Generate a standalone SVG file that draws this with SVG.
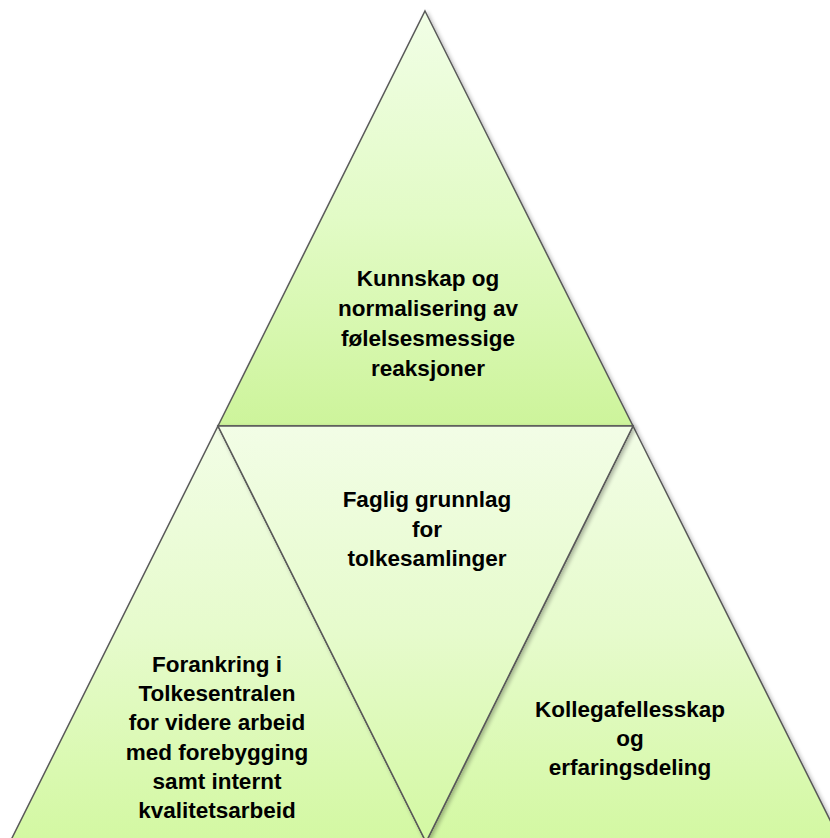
<svg xmlns="http://www.w3.org/2000/svg" width="830" height="838" viewBox="0 0 830 838">
<defs>
<linearGradient id="gTop" x1="0" y1="11" x2="0" y2="426" gradientUnits="userSpaceOnUse">
<stop offset="0" stop-color="#f1fee6"/><stop offset="0.5" stop-color="#e2fbc6"/><stop offset="1" stop-color="#cdf49b"/>
</linearGradient>
<linearGradient id="gBot" x1="0" y1="426" x2="0" y2="842" gradientUnits="userSpaceOnUse">
<stop offset="0" stop-color="#f2fde6"/><stop offset="0.5" stop-color="#e6fbcc"/><stop offset="1" stop-color="#d3f8a2"/>
</linearGradient>
<filter id="sh" x="-10%" y="-10%" width="120%" height="120%">
<feGaussianBlur in="SourceAlpha" stdDeviation="2"/>
<feOffset dx="2" dy="2" result="b"/>
<feComponentTransfer><feFuncA type="linear" slope="0.3"/></feComponentTransfer>
<feMerge><feMergeNode/><feMergeNode in="SourceGraphic"/></feMerge>
</filter>
</defs>
<style>
.tri{stroke:#5a5a5a;stroke-width:1.5;stroke-linejoin:miter;filter:url(#sh)}
.lbl{font-family:"Liberation Sans",Arial,sans-serif;font-weight:bold;font-size:22.5px;fill:#000;text-anchor:middle}
</style>
<g id="top-triangle">
<polygon class="tri" points="425,11 633,426 218,426" fill="url(#gTop)"/>
<text class="lbl" x="428" y="286">Kunnskap og</text>
<text class="lbl" x="428" y="316">normalisering av</text>
<text class="lbl" x="428" y="346">følelsesmessige</text>
<text class="lbl" x="428" y="376">reaksjoner</text>
</g>
<g id="left-triangle">
<polygon class="tri" points="218,426 426,842 10,842" fill="url(#gBot)"/>
<text class="lbl" x="217" y="672">Forankring i</text>
<text class="lbl" x="217" y="701">Tolkesentralen</text>
<text class="lbl" x="217" y="730">for videre arbeid</text>
<text class="lbl" x="217" y="760">med forebygging</text>
<text class="lbl" x="217" y="789">samt internt</text>
<text class="lbl" x="217" y="818">kvalitetsarbeid</text>
</g>
<g id="right-triangle">
<polygon class="tri" points="633,426 841,842 426,842" fill="url(#gBot)"/>
<text class="lbl" x="630" y="717">Kollegafellesskap</text>
<text class="lbl" x="630" y="746">og</text>
<text class="lbl" x="630" y="775">erfaringsdeling</text>
</g>
<g id="middle-triangle">
<polygon class="tri" points="218,426 633,426 426,842" fill="url(#gBot)"/>
<text class="lbl" x="427" y="507">Faglig grunnlag</text>
<text class="lbl" x="427" y="537">for</text>
<text class="lbl" x="427" y="566">tolkesamlinger</text>
</g>
<g id="connectors"></g>
</svg>
